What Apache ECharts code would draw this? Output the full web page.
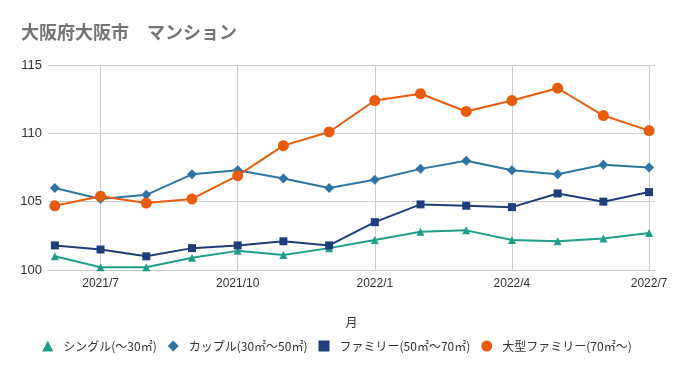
<!DOCTYPE html>
<html><head><meta charset="utf-8">
<script src="https://cdn.jsdelivr.net/npm/echarts@6/dist/echarts.min.js"></script>
<style>html,body{margin:0;padding:0;background:#fff}#c{width:674px;height:371px}</style>
</head><body><div id="c"></div>
<script>
const months = ['2021/6','2021/7','2021/8','2021/9','2021/10','2021/11','2021/12','2022/1','2022/2','2022/3','2022/4','2022/5','2022/6','2022/7'];
const tickLabels = ['2021/7','2021/10','2022/1','2022/4','2022/7'];
const seriesNames = ['シングル(～30㎡)','カップル(30㎡～50㎡)','ファミリー(50㎡～70㎡)','大型ファミリー(70㎡～)'];
const single = [101.0,100.2,100.2,100.9,101.4,101.1,101.6,102.2,102.8,102.9,102.2,102.1,102.3,102.7];
const couple = [106.0,105.2,105.5,107.0,107.3,106.7,106.0,106.6,107.4,108.0,107.3,107.0,107.7,107.5];
const family = [101.8,101.5,101.0,101.6,101.8,102.1,101.8,103.5,104.8,104.7,104.6,105.6,105.0,105.7];
const large = [104.7,105.4,104.9,105.2,106.9,109.1,110.1,112.4,112.9,111.6,112.4,113.3,111.3,110.2];

const tickIdx = tickLabels.map(t => months.indexOf(t));
const colors = ['#1f9e89','#2e75a3','#1f3d7a','#e95c0b'];
const symbols = ['triangle','diamond','rect','circle'];
const sizes = [8,10,8,11];
const datas = [single, couple, family, large];

const chart = echarts.init(document.getElementById('c'));
chart.setOption({
  animation: false,
  title: { text: '大阪府大阪市　マンション', left: 16, top: 18,
    textStyle: { fontFamily: '"Noto Sans CJK JP"', fontSize: 18, fontWeight: 'bold', color: '#757575' } },
  grid: { left: 48, right: 19, top: 65, bottom: 101 },
  legend: { bottom: 14, left: 'center', itemWidth: 11, itemHeight: 11, itemGap: 11,
    textStyle: { fontFamily: '"Noto Sans CJK JP"', fontSize: 12, color: '#333', padding: [0,0,0,5] },
    data: seriesNames.map((n,i)=>({name:n, icon: symbols[i]})) },
  xAxis: { type: 'value', min: -0.15, max: 13.13,
    name: '月', nameLocation: 'middle', nameGap: 46,
    nameTextStyle: { fontFamily: '"Noto Sans CJK JP"', fontSize: 12, color: '#333' },
    axisLine: { show: true, lineStyle: { color: '#c8c8c8' } },
    axisTick: { show: false, customValues: tickIdx },
    axisLabel: { customValues: tickIdx, formatter: v => months[Math.round(v)], margin: 8,
      fontFamily: '"Liberation Sans"', fontSize: 12, color: '#333' },
    splitLine: { show: true, lineStyle: { color: '#cccccc' } } },
  yAxis: { type: 'value', min: 100, max: 115, interval: 5,
    axisLine: { show: false },
    axisTick: { show: false },
    axisLabel: { margin: 6, fontFamily: '"Liberation Sans"', fontSize: 13, color: '#333' },
    splitLine: { lineStyle: { color: '#cccccc' } } },
  series: datas.map((d,i)=>({
    name: seriesNames[i], type: 'line', data: d.map((v,j)=>[j,v]),
    symbol: symbols[i], symbolSize: sizes[i], showAllSymbol: true,
    itemStyle: { color: colors[i] }, lineStyle: { color: colors[i], width: 2 }
  }))
});
</script></body></html>
